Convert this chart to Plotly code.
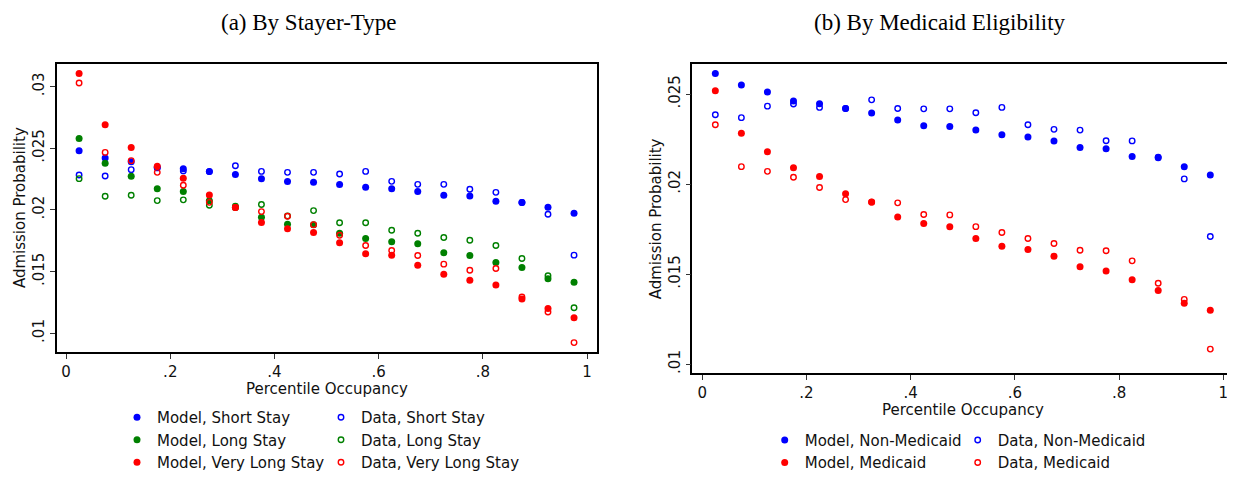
import plotly.graph_objects as go

# ---------------- data ----------------
percentile = [0.025, 0.075, 0.125, 0.175, 0.225, 0.275, 0.325, 0.375, 0.425, 0.475,
              0.525, 0.575, 0.625, 0.675, 0.725, 0.775, 0.825, 0.875, 0.925, 0.975]

# (a) By Stayer-Type
model_short = [0.0248, 0.0242, 0.02391, 0.02345, 0.02334, 0.0231, 0.02286, 0.02253, 0.02229, 0.02223,
               0.02205, 0.02183, 0.02172, 0.02148, 0.02118, 0.02113, 0.0207, 0.02059, 0.02021, 0.01973]
data_short = [0.02283, 0.02275, 0.02326, 0.0234, 0.02316, 0.0231, 0.02358, 0.02312, 0.02304, 0.02304,
              0.02291, 0.02312, 0.02231, 0.02207, 0.02207, 0.02167, 0.02142, 0.0206, 0.01964, 0.01633]
model_long = [0.02579, 0.02377, 0.02272, 0.02172, 0.02148, 0.02073, 0.0202, 0.0194, 0.01883, 0.01879,
              0.01811, 0.01768, 0.01741, 0.01725, 0.01652, 0.0163, 0.01574, 0.01533, 0.01442, 0.01414]
data_long = [0.02253, 0.0211, 0.02118, 0.02075, 0.02081, 0.02037, 0.0203, 0.02043, 0.0195, 0.01994,
             0.01895, 0.01895, 0.01835, 0.01811, 0.01776, 0.01754, 0.01711, 0.01606, 0.01466, 0.01207]
model_vlong = [0.03105, 0.0269, 0.02506, 0.02353, 0.02256, 0.02121, 0.02019, 0.01897, 0.01846, 0.01816,
               0.01733, 0.01644, 0.01633, 0.01552, 0.01479, 0.0143, 0.0139, 0.01277, 0.01201, 0.01126]
data_vlong = [0.03028, 0.02466, 0.02399, 0.02304, 0.02199, 0.02061, 0.0202, 0.01986, 0.01948, 0.0188,
              0.01794, 0.01711, 0.01671, 0.0163, 0.0156, 0.01511, 0.01525, 0.01293, 0.01172, 0.00924]

# (b) By Medicaid Eligibility
model_nonmed = [0.02614, 0.0255, 0.02511, 0.02461, 0.02446, 0.0242, 0.02395, 0.02356, 0.02324, 0.0232,
                0.023, 0.02274, 0.02262, 0.0224, 0.02204, 0.02197, 0.02154, 0.02147, 0.02097, 0.02051]
data_nonmed = [0.02385, 0.02369, 0.02433, 0.02445, 0.02426, 0.0242, 0.02468, 0.0242, 0.02418, 0.02418,
               0.02396, 0.02426, 0.0233, 0.02304, 0.023, 0.02241, 0.0224, 0.0215, 0.02029, 0.01709]
model_med = [0.02518, 0.02282, 0.0218, 0.02091, 0.02042, 0.01946, 0.01901, 0.01818, 0.01781, 0.01763,
             0.01698, 0.01655, 0.01637, 0.016, 0.01541, 0.01517, 0.01469, 0.0141, 0.01339, 0.01299]
data_med = [0.0233, 0.02097, 0.02071, 0.02038, 0.01981, 0.01914, 0.019, 0.01896, 0.01831, 0.01829,
            0.01764, 0.01731, 0.01698, 0.0167, 0.01633, 0.0163, 0.01574, 0.0145, 0.0136, 0.01084]

x_tickvals = [0, 0.2, 0.4, 0.6, 0.8, 1]
x_ticktext = ["0", ".2", ".4", ".6", ".8", "1"]
ya_tickvals = [0.01, 0.015, 0.02, 0.025, 0.03]
ya_ticktext = [".01", ".015", ".02", ".025", ".03"]
yb_tickvals = [0.01, 0.015, 0.02, 0.025]
yb_ticktext = [".01", ".015", ".02", ".025"]

titles = ["(a) By Stayer-Type", "(b) By Medicaid Eligibility"]
x_title = "Percentile Occupancy"
y_title = "Admission Probability"

BLUE = "#0000ff"
GREEN = "#008000"
RED = "#ff0000"
SANS = "DejaVu Sans"
OFF = 8              # page body margin of the html page
W, H = 1235 - OFF, 479 - OFF

fig = go.Figure()

def filled(y, name, color, xa, ya, legend):
    fig.add_trace(go.Scatter(x=percentile, y=y, mode="markers", name=name,
                             marker=dict(symbol="circle", size=7, color=color, line=dict(width=0)),
                             xaxis=xa, yaxis=ya, legend=legend))

def hollow(y, name, color, xa, ya, legend):
    fig.add_trace(go.Scatter(x=percentile, y=y, mode="markers", name=name,
                             marker=dict(symbol="circle-open", size=5.5, color=color,
                                         line=dict(width=1.4, color=color)),
                             xaxis=xa, yaxis=ya, legend=legend))

# panel a
filled(model_short, "Model, Short Stay", BLUE, "x", "y", "legend")
hollow(data_short, "Data, Short Stay", BLUE, "x", "y", "legend2")
filled(model_long, "Model, Long Stay", GREEN, "x", "y", "legend")
hollow(data_long, "Data, Long Stay", GREEN, "x", "y", "legend2")
filled(model_vlong, "Model, Very Long Stay", RED, "x", "y", "legend")
hollow(data_vlong, "Data, Very Long Stay", RED, "x", "y", "legend2")
# panel b
filled(model_nonmed, "Model, Non-Medicaid", BLUE, "x2", "y2", "legend3")
hollow(data_nonmed, "Data, Non-Medicaid", BLUE, "x2", "y2", "legend4")
filled(model_med, "Model, Medicaid", RED, "x2", "y2", "legend3")
hollow(data_med, "Data, Medicaid", RED, "x2", "y2", "legend4")

axis_common = dict(showline=True, mirror=True, linecolor="black", linewidth=1.5,
                   ticks="outside", ticklen=5, tickwidth=1.2, tickcolor="#333333",
                   showgrid=False, zeroline=False,
                   tickfont=dict(family=SANS, size=15, color="#111111"))

def px2x(p):
    return (p - OFF) / W

def px2y(p):
    return 1 - (p - OFF) / H

fig.update_layout(
    width=W, height=H,
    margin=dict(l=0, r=0, t=0, b=0),
    paper_bgcolor="white", plot_bgcolor="white",
    showlegend=True,
    xaxis=dict(domain=[px2x(56.7), px2x(596.7)], range=[-0.018, 1.0185],
               tickvals=x_tickvals, ticktext=x_ticktext, anchor="y", **axis_common),
    yaxis=dict(domain=[px2y(352.7), px2y(64.3)], range=[0.00848, 0.03181],
               tickvals=ya_tickvals, ticktext=ya_ticktext, tickangle=-90, anchor="x", **axis_common),
    xaxis2=dict(domain=[px2x(692.3), px2x(1232.7)], range=[-0.0192, 1.018],
                tickvals=x_tickvals, ticktext=x_ticktext, anchor="y2", **axis_common),
    yaxis2=dict(domain=[px2y(374), px2y(64.3)], range=[0.0095, 0.02666],
                tickvals=yb_tickvals, ticktext=yb_ticktext, tickangle=-90, anchor="x2", **axis_common),
)

leg_common = dict(xanchor="left", yanchor="middle", orientation="v",
                  bgcolor="rgba(0,0,0,0)", borderwidth=0,
                  font=dict(family=SANS, size=15, color="#111111"))
fig.update_layout(
    legend=dict(x=px2x(117), y=px2y(440.7), **leg_common),
    legend2=dict(x=px2x(321), y=px2y(440.7), **leg_common),
    legend3=dict(x=px2x(764.7), y=px2y(451.2), **leg_common),
    legend4=dict(x=px2x(957.7), y=px2y(451.2), **leg_common),
)

ann = []
# subplot captions
ann.append(dict(text=titles[0], x=px2x(308), y=px2y(23), xref="paper", yref="paper",
                xanchor="center", yanchor="middle", showarrow=False,
                font=dict(family="Liberation Serif", size=23, color="black")))
ann.append(dict(text=titles[1], x=px2x(940), y=px2y(23), xref="paper", yref="paper",
                xanchor="center", yanchor="middle", showarrow=False,
                font=dict(family="Liberation Serif", size=23, color="black")))
# axis titles
for cx, cy in [(326.7, 389.5), (962.5, 411)]:
    ann.append(dict(text=x_title, x=px2x(cx), y=px2y(cy), xref="paper", yref="paper",
                    xanchor="center", yanchor="middle", showarrow=False,
                    font=dict(family=SANS, size=15, color="#111111")))
for cx, cy in [(20, 208.5), (655.6, 219.2)]:
    ann.append(dict(text=y_title, x=px2x(cx), y=px2y(cy), xref="paper", yref="paper",
                    xanchor="center", yanchor="middle", showarrow=False, textangle=-90,
                    font=dict(family=SANS, size=15, color="#111111")))
fig.update_layout(annotations=ann)

fig.write_html("out.html")
